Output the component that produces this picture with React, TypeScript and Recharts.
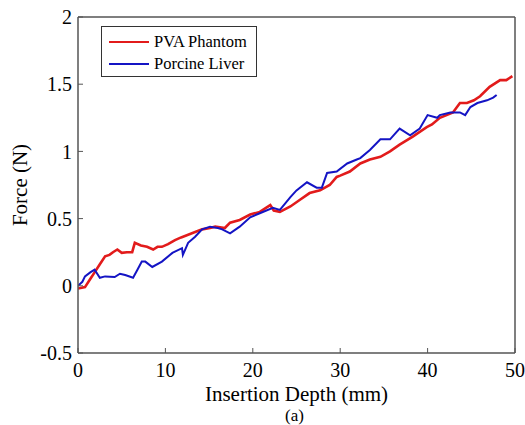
import React from 'react';
import { LineChart, Line, XAxis, YAxis, Legend, Label } from 'recharts';

// PVA phantom (red)
const pvaDepth = [0, 0.8, 1.4, 1.9, 2.5, 3.1, 3.6, 4.0, 4.5, 5.0, 5.6, 6.2, 6.5, 7.2, 7.9, 8.6, 9.1, 9.6, 10.3, 11.1, 11.8, 12.6, 13.4, 14.2, 15.1, 15.7, 16.8, 17.4, 18.5, 19.7, 20.8, 22.0, 22.4, 23.1, 24.3, 25.4, 26.5, 27.7, 28.8, 29.6, 30.0, 31.1, 32.3, 33.4, 34.6, 35.7, 36.8, 38.3, 39.9, 40.5, 41.4, 42.9, 43.7, 44.5, 45.3, 46.0, 47.1, 48.3, 49.0, 49.7];
const pvaForce = [-0.02, -0.01, 0.05, 0.1, 0.16, 0.22, 0.23, 0.25, 0.27, 0.245, 0.25, 0.25, 0.32, 0.3, 0.29, 0.27, 0.29, 0.29, 0.31, 0.34, 0.36, 0.38, 0.4, 0.42, 0.43, 0.44, 0.43, 0.47, 0.49, 0.53, 0.55, 0.6, 0.56, 0.55, 0.59, 0.64, 0.69, 0.71, 0.75, 0.81, 0.82, 0.85, 0.91, 0.94, 0.96, 1.0, 1.05, 1.11, 1.18, 1.2, 1.25, 1.29, 1.36, 1.36, 1.38, 1.41, 1.48, 1.53, 1.53, 1.56];

// porcine liver (blue)
const liverDepth = [0, 0.5, 0.8, 1.4, 1.9, 2.5, 3.1, 4.2, 4.8, 5.4, 6.3, 6.8, 7.3, 7.7, 8.5, 9.6, 10.8, 11.9, 12.0, 12.6, 13.4, 14.2, 15.1, 16.0, 16.5, 17.4, 18.5, 19.7, 20.8, 22.3, 23.1, 24.3, 25.0, 26.2, 27.3, 27.9, 28.5, 29.6, 30.8, 31.9, 32.3, 33.4, 34.6, 35.7, 36.8, 38.0, 39.1, 40.0, 41.1, 41.4, 42.6, 43.7, 44.3, 44.9, 45.7, 46.8, 47.5, 47.9];
const liverForce = [0, 0.03, 0.07, 0.1, 0.12, 0.06, 0.07, 0.065, 0.09, 0.08, 0.06, 0.12, 0.18, 0.18, 0.14, 0.18, 0.245, 0.28, 0.23, 0.32, 0.365, 0.42, 0.44, 0.43, 0.42, 0.39, 0.44, 0.51, 0.54, 0.58, 0.565, 0.66, 0.71, 0.77, 0.73, 0.73, 0.84, 0.85, 0.91, 0.94, 0.95, 1.01, 1.09, 1.09, 1.17, 1.12, 1.17, 1.27, 1.25, 1.27, 1.29, 1.29, 1.27, 1.33, 1.36, 1.38, 1.4, 1.42];

const xTicks = [0, 10, 20, 30, 40, 50];
const yTicks = [-0.5, 0, 0.5, 1, 1.5, 2];

const pvaData = pvaDepth.map((x, i) => ({ x, y: pvaForce[i] }));
const liverData = liverDepth.map((x, i) => ({ x, y: liverForce[i] }));

const FONT = 'Liberation Serif, DejaVu Serif, serif';
const AXIS_COLOR = '#555';

const LegendBox = (props: any) => {
    const { payload } = props;
    return (
        <div style={{ width: 154, height: 49, border: '1px solid #333', background: '#fff', fontFamily: FONT, fontSize: 16.5, color: '#000' }}>
            {(payload || []).map((p: any, i: number) => (
                <div key={i} style={{ display: 'flex', alignItems: 'center', height: 22, marginTop: i === 0 ? 4 : 0 }}>
                    <div style={{ width: 40, height: 2, background: p.color, marginLeft: 7, marginRight: 5 }} />
                    <span style={{ whiteSpace: 'nowrap' }}>{p.value}</span>
                </div>
            ))}
        </div>
    );
};

export default function App() {
    return (
        <div style={{ position: 'absolute', left: 0, top: 0, background: '#fff' }}>
            <LineChart width={525} height={425} margin={{ top: 0, right: 0, bottom: 0, left: 0 }} style={{ fontFamily: FONT }}>
                <XAxis
                    dataKey="x" type="number" domain={[0, 50]} ticks={xTicks} height={72}
                    allowDataOverflow
                    axisLine={{ stroke: AXIS_COLOR, strokeWidth: 1.5 }}
                    tickLine={{ stroke: AXIS_COLOR }}
                    tickSize={-5} tickMargin={15}
                    tick={{ fontSize: 20, fill: '#000', fontFamily: FONT }}
                >
                    <Label content={(p: any) => {
                        const vb = p.viewBox;
                        const cx = vb.x + vb.width / 2;
                        return (
                            <g fontFamily={FONT} fill="#000" textAnchor="middle">
                                <text x={cx} y={vb.y + 48} fontSize={21}>Insertion Depth (mm)</text>
                                <text x={cx - 2} y={vb.y + 68} fontSize={17}>(a)</text>
                            </g>
                        );
                    }} />
                </XAxis>
                <XAxis
                    xAxisId="top" orientation="top" type="number" domain={[0, 50]} ticks={xTicks} height={17}
                    axisLine={{ stroke: AXIS_COLOR, strokeWidth: 1.5 }}
                    tickLine={{ stroke: AXIS_COLOR }}
                    tickSize={-5} tick={false}
                />
                <YAxis
                    dataKey="y" type="number" domain={[-0.5, 2]} ticks={yTicks} width={78}
                    allowDataOverflow
                    axisLine={{ stroke: AXIS_COLOR, strokeWidth: 1.5 }}
                    tickLine={{ stroke: AXIS_COLOR }}
                    tickSize={-5} tickMargin={11}
                    tick={{ fontSize: 20, fill: '#000', fontFamily: FONT }}
                >
                    <Label content={(p: any) => {
                        const vb = p.viewBox;
                        const cy = vb.y + vb.height / 2;
                        return (
                            <text x={27} y={cy} fontSize={21} fontFamily={FONT} fill="#000" textAnchor="middle" transform={`rotate(-90 27 ${cy})`}>Force (N)</text>
                        );
                    }} />
                </YAxis>
                <YAxis
                    yAxisId="right" orientation="right" type="number" domain={[-0.5, 2]} ticks={yTicks} width={10}
                    axisLine={{ stroke: AXIS_COLOR, strokeWidth: 1.5 }}
                    tickLine={{ stroke: AXIS_COLOR }}
                    tickSize={-5} tick={false}
                />
                <Legend
                    layout="vertical" align="center" verticalAlign="middle"
                    wrapperStyle={{ top: 26, left: 101, width: 156, height: 51 }}
                    content={<LegendBox />}
                />
                <Line data={pvaData} dataKey="y" name="PVA Phantom" type="linear" stroke="#e21b1b" strokeWidth={2.6} dot={false} isAnimationActive={false} />
                <Line data={liverData} dataKey="y" name="Porcine Liver" type="linear" stroke="#1414c4" strokeWidth={2} dot={false} isAnimationActive={false} />
            </LineChart>
        </div>
    );
}
